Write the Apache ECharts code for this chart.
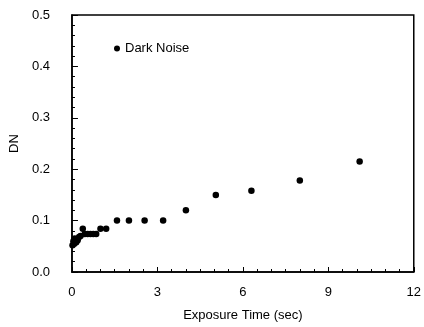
<!DOCTYPE html>
<html><head><meta charset="utf-8">
<script src="https://cdn.jsdelivr.net/npm/echarts@6/dist/echarts.min.js"></script>
<style>html,body{margin:0;padding:0;background:#fff}#c{width:424px;height:327px}</style>
</head><body><div id="c"></div>
<script>
const seriesName = 'Dark Noise';
const exposureTime = [0.02,0.05,0.08,0.1,0.15,0.2,0.25,0.3,0.38,0.45,0.55,0.65,0.75,0.85,1.0,1.2,1.58,2.0,2.55,3.2,4.0,5.05,6.3,8.0,10.1];
const darkNoise = [0.052,0.06,0.055,0.065,0.058,0.062,0.068,0.07,0.084,0.074,0.074,0.074,0.074,0.074,0.084,0.084,0.1,0.1,0.1,0.1,0.12,0.15,0.158,0.178,0.215];
const xTicks = [0,3,6,9,12];
const yTicks = [0.0,0.1,0.2,0.3,0.4,0.5];

const font = 'Liberation Sans';
const chart = echarts.init(document.getElementById('c'), null, {renderer:'canvas'});
chart.setOption({
  animation:false,
  backgroundColor:'#fff',
  grid:{left:67,right:5,top:15,bottom:55,show:true,borderColor:'#000',borderWidth:1.5},
  legend:{left:109,top:37,itemWidth:6,itemHeight:6,itemGap:5,icon:'circle',
    textStyle:{fontFamily:font,fontSize:13,color:'#000'},data:[seriesName]},
  xAxis:{type:'value',min:0,max:12,interval:3,
    name:'Exposure Time (sec)',nameLocation:'middle',nameGap:37,
    nameTextStyle:{fontFamily:font,fontSize:13,color:'#000'},
    axisLine:{show:true,lineStyle:{color:'#000',width:1.5}},
    axisTick:{show:true,inside:true,length:5,lineStyle:{color:'#000'}},
    minorTick:{show:true,splitNumber:6,length:3,lineStyle:{color:'#000'}},
    axisLabel:{fontFamily:font,fontSize:13,color:'#000',margin:14,formatter:v=>xTicks.includes(v)?String(v):''},
    splitLine:{show:false}},
  yAxis:{type:'value',min:0,max:0.5,interval:0.1,
    name:'DN',nameLocation:'middle',nameGap:46,nameRotate:90,
    nameTextStyle:{fontFamily:font,fontSize:13,color:'#000'},
    axisLine:{show:true,lineStyle:{color:'#000',width:1.5}},
    axisTick:{show:true,inside:true,length:6,lineStyle:{color:'#000'}},
    minorTick:{show:true,splitNumber:5,length:3,lineStyle:{color:'#000'}},
    axisLabel:{fontFamily:font,fontSize:13,color:'#000',margin:22,formatter:v=>yTicks.some(t=>Math.abs(t-v)<1e-9)?v.toFixed(1):''},
    splitLine:{show:false}},
  series:[{name:seriesName,type:'scatter',symbol:'circle',symbolSize:6.5,
    itemStyle:{color:'#000',opacity:1},
    data:exposureTime.map((x,i)=>[x,darkNoise[i]])}]
});
</script></body></html>
